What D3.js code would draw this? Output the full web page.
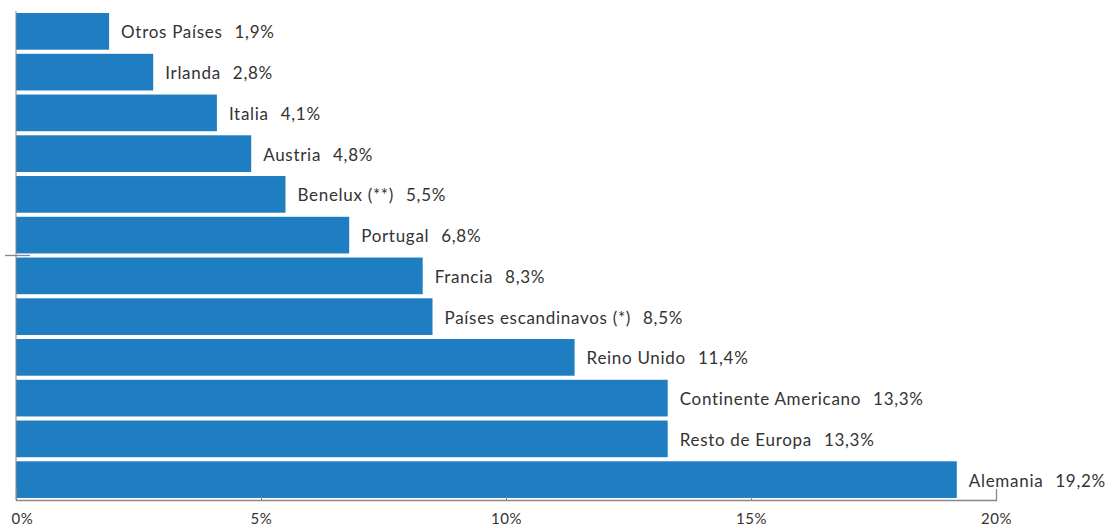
<!DOCTYPE html>
<html>
<head>
<meta charset="utf-8">
<script src="https://cdn.jsdelivr.net/npm/d3@7"></script>
<style>
  html, body { margin: 0; padding: 0; background: #fff; }
  svg { display: block; }
  text { font-family: Lato, "Noto Sans", sans-serif; fill: #333; }
</style>
</head>
<body>
<svg id="chart" width="1119" height="528"></svg>
<script>
// Distribución por país (porcentaje)
const categories = [
  "Otros Países", "Irlanda", "Italia", "Austria", "Benelux (**)", "Portugal",
  "Francia", "Países escandinavos (*)", "Reino Unido", "Continente Americano",
  "Resto de Europa", "Alemania"
];
const values = [1.9, 2.8, 4.1, 4.8, 5.5, 6.8, 8.3, 8.5, 11.4, 13.3, 13.3, 19.2];
const tickValues = [0, 5, 10, 15, 20];
const tickLabels = ["0%", "5%", "10%", "15%", "20%"];

const fmt = v => v.toFixed(1).replace(".", ",") + "%";

const svg = d3.select("#chart");
const plot = { left: 16, right: 996, top: 11, bottom: 500 };

const x = d3.scaleLinear().domain([0, 20]).range([plot.left, plot.right]);
const y = d3.scaleBand().domain(categories).range([plot.top, plot.bottom])
  .paddingInner(0.1).paddingOuter(0.05);

// bars
svg.append("g").selectAll("rect")
  .data(categories)
  .join("rect")
  .attr("x", x(0))
  .attr("y", d => y(d))
  .attr("width", (d, i) => x(values[i]) - x(0))
  .attr("height", y.bandwidth())
  .attr("fill", "#1f7dc2");

// labels: name and value
const lab = svg.append("g").selectAll("text")
  .data(categories)
  .join("text")
  .attr("x", (d, i) => x(values[i]) + 12)
  .attr("y", d => y(d) + y.bandwidth() / 2 + 1)
  .attr("dy", "0.35em")
  .attr("font-size", 17)
  .attr("letter-spacing", "0.7px");
lab.append("tspan").text(d => d);
lab.append("tspan").attr("dx", 12).text((d, i) => fmt(values[i]));

// left axis line with its single centre tick
const axisColor = "#888";
svg.append("line")
  .attr("x1", x(0)).attr("x2", x(0))
  .attr("y1", plot.top).attr("y2", plot.bottom)
  .attr("stroke", axisColor).attr("stroke-width", 1);
svg.append("line")
  .attr("x1", x(0) - 11).attr("x2", x(0) + 14)
  .attr("y1", (plot.top + plot.bottom) / 2).attr("y2", (plot.top + plot.bottom) / 2)
  .attr("stroke", axisColor).attr("stroke-width", 1.3);

// bottom axis
const xAxis = d3.axisBottom(x)
  .tickValues(tickValues)
  .tickSizeInner(-3)
  .tickSizeOuter(-11)
  .tickPadding(13)
  .tickFormat((d, i) => tickLabels[i]);

const gx = svg.append("g")
  .attr("transform", `translate(0,${plot.bottom})`)
  .call(xAxis);
gx.select(".domain").attr("stroke", axisColor).attr("stroke-width", 1.3);
gx.selectAll(".tick line").attr("stroke", axisColor);
gx.selectAll(".tick text")
  .attr("font-size", 15)
  .attr("letter-spacing", "0.6px")
  .attr("font-family", "Lato, 'Noto Sans', sans-serif")
  .attr("fill", "#333")
  .attr("dx", (d, i) => i === 0 ? 6 : 0);
</script>
</body>
</html>
